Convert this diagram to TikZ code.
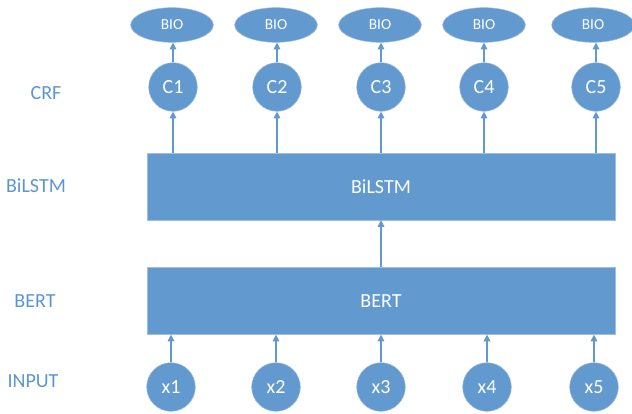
\documentclass[tikz,border=0pt]{standalone}
\usepackage{fontspec}
\setmainfont{Carlito}
\usetikzlibrary{arrows.meta,shapes.geometric}

\definecolor{layerblue}{RGB}{98,153,206}
\definecolor{edgeblue}{RGB}{160,190,222}
\definecolor{labelblue}{RGB}{91,150,210}

\tikzset{
  layer/.style={rectangle, fill=layerblue, draw=edgeblue, line width=0.4pt,
    minimum width=351pt, minimum height=50pt, text=white, font=\fontsize{15}{18}\selectfont},
  unit/.style={circle, fill=layerblue, draw=edgeblue, line width=0.4pt,
    minimum size=36.5pt, inner sep=0pt, text=white, font=\fontsize{15}{18}\selectfont},
  tag/.style={ellipse, fill=layerblue, draw=edgeblue, line width=0.4pt,
    minimum width=62pt, minimum height=26pt, inner sep=0pt, text=white, font=\fontsize{11.5}{13}\selectfont},
  rowname/.style={text=labelblue, font=\fontsize{15}{18}\selectfont},
  arr/.style={draw=layerblue, line width=0.8pt, -{Triangle[width=5pt,length=5pt]}}
}

\begin{document}
\begin{tikzpicture}[x=0.75pt, y=-0.75pt]
  \useasboundingbox (0,0) rectangle (632,414);

  % row names on the left
  \node[rowname] (lcrf)   at (46,93)   {CRF};
  \node[rowname] (llstm)  at (36,186)  {BiLSTM};
  \node[rowname] (lbert)  at (35,301)  {BERT};
  \node[rowname] (linput) at (33,381)  {INPUT};

  % the two big layers
  \node[layer] (bilstm) at (381,186.5) {BiLSTM};
  \node[layer] (bert)   at (381,301)   {BERT};
  \draw[arr] (bert) -- (bilstm);

  % one column per token: input, crf unit, tag
  \foreach \i/\xin/\xc/\xt in {1/171/173/172, 2/276/277/276, 3/381/381/380,
                               4/487/484/484, 5/594/596/593} {
    \node[unit] (x\i)   at (\xin,387) {x\i};
    \node[unit] (c\i)   at (\xc,87)   {C\i};
    \node[tag]  (bio\i) at (\xt,25)   {BIO};
    \draw[arr] (x\i) -- (x\i |- bert.south);
    \draw[arr] (c\i |- bilstm.north) -- (c\i);
    \draw[arr] (c\i) -- (c\i |- bio\i.south);
  }
\end{tikzpicture}
\end{document}
